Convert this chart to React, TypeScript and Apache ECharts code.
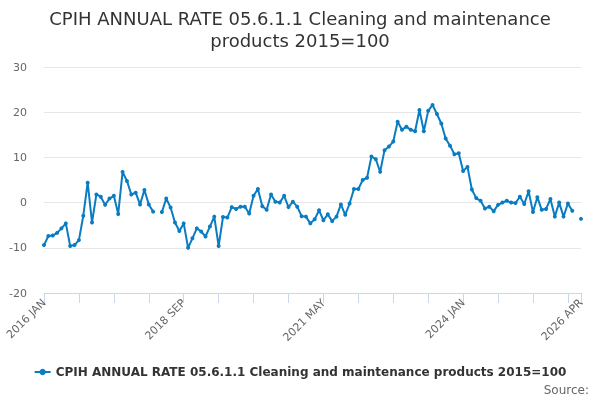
import { useEffect, useRef } from "react";
import * as echarts from "echarts";

const MONTHS = ["JAN", "FEB", "MAR", "APR", "MAY", "JUN", "JUL", "AUG", "SEP", "OCT", "NOV", "DEC"];
const START_YEAR = 2016;
const MONTH_COUNT = 124; // 2016 JAN .. 2026 APR

const categories: string[] = [];
for (let i = 0; i < MONTH_COUNT; i++) {
  categories.push(`${START_YEAR + Math.floor(i / 12)} ${MONTHS[i % 12]}`);
}

// annual rate, % (null = no figure published)
const annualRate: (number | null)[] = [
  -9.4, -7.4, -7.3, -6.7, -5.7, -4.6, -9.6, -9.4, -8.3, -2.9, 4.4, -4.4,
  1.8, 1.3, -0.5, 0.9, 1.5, -2.5, 6.8, 4.8, 1.8, 2.2, -0.4, 2.8,
  -0.4, -2.0, null, -2.1, 0.9, -1.1, -4.4, -6.3, -4.6, -10.0, -7.9, -5.7,
  -6.4, -7.5, -5.3, -3.1, -9.6, -3.2, -3.3, -1.0, -1.4, -0.9, -0.9, -2.4,
  1.5, 3.0, -0.8, -1.6, 1.8, 0.2, 0.0, 1.5, -1.0, 0.2, -0.9, -3.0,
  -3.1, -4.6, -3.7, -1.7, -3.9, -2.6, -4.1, -3.1, -0.4, -2.7, -0.2, 3.0,
  3.0, 5.0, 5.5, 10.2, 9.6, 6.8, 11.6, 12.4, 13.5, 17.9, 16.1, 16.8,
  16.1, 15.8, 20.5, 15.8, 20.3, 21.6, 19.6, 17.5, 14.2, 12.6, 10.7, 10.9,
  7.0, 7.9, 2.9, 1.0, 0.4, -1.3, -0.9, -1.9, -0.5, 0.0, 0.4, 0.0,
  -0.1, 1.3, -0.3, 2.5, -2.1, 1.2, -1.6, -1.4, 0.8, -3.1, 0.0, -3.1,
  -0.2, -1.8, null, -3.6,
];

const TITLE = "CPIH ANNUAL RATE 05.6.1.1 Cleaning and maintenance\nproducts 2015=100";
const SERIES_NAME = "CPIH ANNUAL RATE 05.6.1.1 Cleaning and maintenance products 2015=100";
const FONT = "'DejaVu Sans', Verdana, sans-serif";
const BLUE = "#0a7cc1";

export default function App() {
  const ref = useRef<HTMLDivElement | null>(null);

  useEffect(() => {
    if (!ref.current) return;
    const chart = echarts.init(ref.current, undefined, { renderer: "svg" });
    const last = categories.length - 1;

    chart.setOption({
      animation: false,
      textStyle: { fontFamily: FONT },
      title: {
        text: TITLE,
        left: "center",
        top: 2,
        textStyle: { fontSize: 18, fontWeight: "normal", color: "#333333", lineHeight: 22, fontFamily: FONT },
      },
      grid: { left: 44, right: 19, top: 67, bottom: 107, containLabel: false },
      legend: {
        bottom: 17,
        left: "center",
        itemWidth: 16,
        itemHeight: 8,
        itemGap: 10,
        textStyle: { fontSize: 12, fontWeight: "bold", color: "#333333", fontFamily: FONT },
        data: [SERIES_NAME],
      },
      graphic: [
        {
          type: "text",
          right: 11,
          bottom: 4,
          style: { text: "Source:", fontSize: 12, fill: "#666666", fontFamily: FONT },
        },
      ],
      xAxis: {
        type: "category",
        data: categories,
        boundaryGap: false,
        axisLine: { onZero: false, lineStyle: { color: "#ccd6eb" } },
        axisTick: {
          length: 10,
          lineStyle: { color: "#ccd6eb" },
          interval: (i: number) => i % 8 === 0 || i === last,
        },
        axisLabel: {
          rotate: 45,
          color: "#666666",
          fontSize: 11,
          margin: 8,
          interval: (i: number) => i % 32 === 0 || i === last,
        },
        splitLine: { show: false },
      },
      yAxis: {
        type: "value",
        min: -20,
        max: 30,
        interval: 10,
        axisLine: { show: false },
        axisTick: { show: false },
        axisLabel: { color: "#666666", fontSize: 11, margin: 17 },
        splitLine: { lineStyle: { color: "#e6e6e6" } },
      },
      series: [
        {
          name: SERIES_NAME,
          type: "line",
          data: annualRate,
          connectNulls: false,
          symbol: "circle",
          symbolSize: 4,
          showSymbol: true,
          showAllSymbol: true,
          lineStyle: { color: BLUE, width: 2 },
          itemStyle: { color: BLUE },
        },
      ],
    });

    return () => chart.dispose();
  }, []);

  return (
    <div
      ref={ref}
      style={{ position: "fixed", left: 0, top: 0, width: 600, height: 400 }}
    />
  );
}
